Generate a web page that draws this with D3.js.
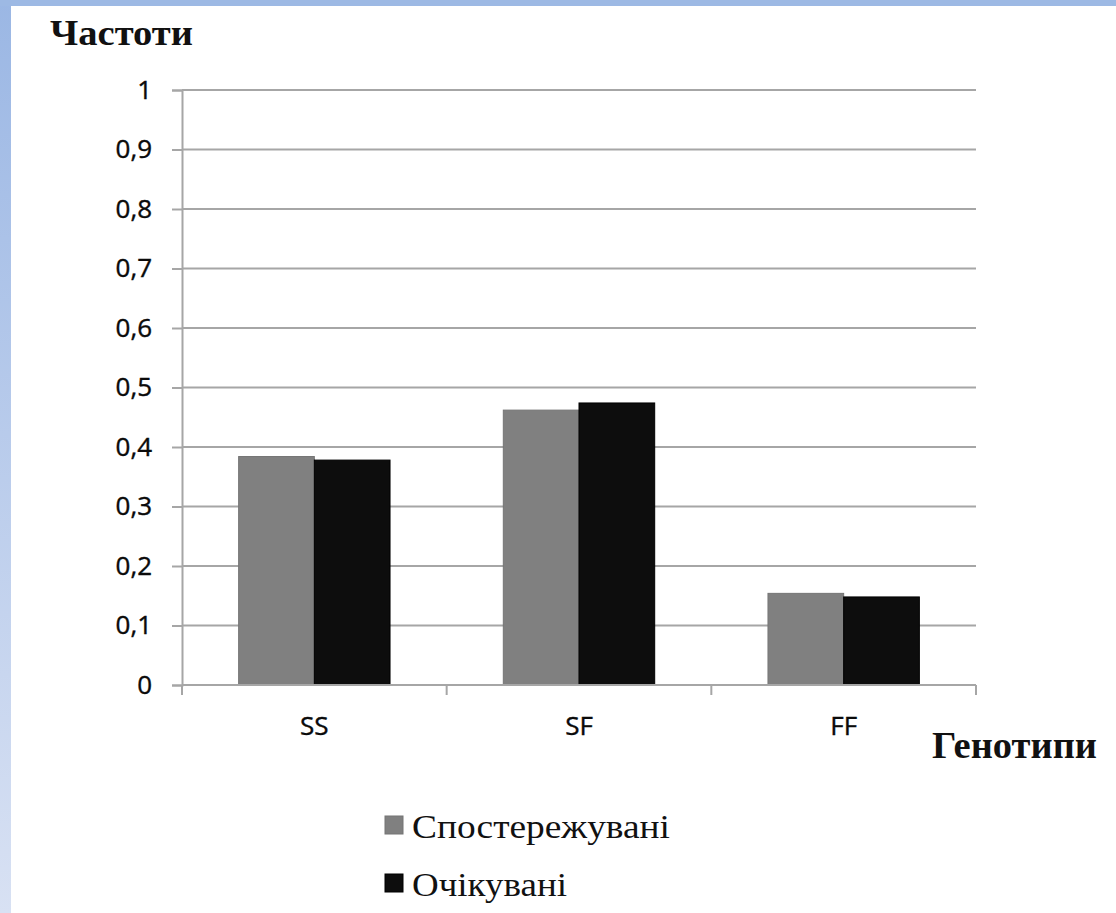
<!DOCTYPE html>
<html>
<head>
<meta charset="utf-8">
<script src="https://cdn.jsdelivr.net/npm/d3@7/dist/d3.min.js"></script>
<style>
  html, body { margin: 0; padding: 0; background: #fff; }
  svg { display: block; }
</style>
</head>
<body>
<svg id="chart" width="1116" height="913"></svg>
<script>
// Genotype frequencies: observed vs expected
const genotypes = ["SS", "SF", "FF"];
const observed = [0.384, 0.462, 0.154];
const expected = [0.378, 0.474, 0.148];
const seriesNames = ["Спостережувані", "Очікувані"];
const seriesColors = ["#808080", "#0d0d0d"];
const yTicks = [0, 0.1, 0.2, 0.3, 0.4, 0.5, 0.6, 0.7, 0.8, 0.9, 1];

const svg = d3.select("#chart");

// slide frame: blue strip on top and a fading strip on the left
const defs = svg.append("defs");
const grad = defs.append("linearGradient").attr("id", "sideFade")
  .attr("x1", 0).attr("y1", 0).attr("x2", 0).attr("y2", 1);
grad.append("stop").attr("offset", 0).attr("stop-color", "#9bb7e4");
grad.append("stop").attr("offset", 1).attr("stop-color", "#d8e1f3");
svg.append("rect").attr("x", 0).attr("y", 0).attr("width", 11).attr("height", 913).attr("fill", "url(#sideFade)");
svg.append("rect").attr("x", 0).attr("y", 0).attr("width", 1116).attr("height", 6).attr("fill", "#9db9e4");

const plotLeft = 182, plotRight = 976, plotTop = 90, plotBottom = 685;

const x = d3.scaleBand().domain(genotypes).range([plotLeft, plotRight])
  .paddingInner(0.428).paddingOuter(0.214);
const xSub = d3.scaleBand().domain([0, 1]).range([0, x.bandwidth()]);
const y = d3.scaleLinear().domain([0, 1]).range([plotBottom, plotTop]);

const gridColor = "#a6a6a6";
const labelColor = "#0a0a0a";

// horizontal gridlines
svg.append("g").selectAll("line").data(yTicks.filter(t => t > 0)).join("line")
  .attr("x1", plotLeft).attr("x2", plotRight)
  .attr("y1", d => y(d)).attr("y2", d => y(d))
  .attr("stroke", gridColor).attr("stroke-width", 2);

// y axis
const yAxis = svg.append("g").attr("transform", `translate(${plotLeft},0)`)
  .call(d3.axisLeft(y).tickValues(yTicks).tickSize(10).tickPadding(20)
    .tickFormat(d => String(d).replace(".", ",")));
yAxis.select(".domain").attr("stroke", gridColor).attr("stroke-width", 2);
yAxis.selectAll(".tick line").attr("stroke", gridColor).attr("stroke-width", 2);
yAxis.selectAll(".tick text")
  .attr("font-family", "'Open Sans', sans-serif").attr("font-size", 26)
  .attr("fill", labelColor).attr("stroke", labelColor).attr("stroke-width", 0.4);

// bars
const series = [observed, expected];
const groups = svg.append("g").selectAll("g").data(genotypes).join("g")
  .attr("transform", d => `translate(${x(d)},0)`);
groups.selectAll("rect").data((d, i) => series.map((s, k) => ({ k, v: s[i] }))).join("rect")
  .attr("x", d => xSub(d.k))
  .attr("width", xSub.bandwidth())
  .attr("y", d => y(d.v))
  .attr("height", d => y(0) - y(d.v))
  .attr("fill", d => seriesColors[d.k])
  .attr("stroke", d => d.k === 0 ? "#757575" : "#000")
  .attr("stroke-width", 1);

// x axis with category dividers
const xAxis = svg.append("g").attr("transform", `translate(0,${plotBottom})`);
xAxis.append("line").attr("x1", plotLeft).attr("x2", plotRight).attr("y1", 0).attr("y2", 0)
  .attr("stroke", gridColor).attr("stroke-width", 2);
const dividers = d3.range(genotypes.length + 1).map(i => plotLeft + i * (plotRight - plotLeft) / genotypes.length);
xAxis.selectAll("line.div").data(dividers).join("line").attr("class", "div")
  .attr("x1", d => d).attr("x2", d => d).attr("y1", 0).attr("y2", 10)
  .attr("stroke", gridColor).attr("stroke-width", 2);
xAxis.selectAll("text").data(genotypes).join("text")
  .attr("x", d => x(d) + x.bandwidth() / 2)
  .attr("y", 50)
  .attr("text-anchor", "middle")
  .attr("font-family", "'Open Sans', sans-serif").attr("font-size", 26)
  .attr("fill", labelColor).attr("stroke", labelColor).attr("stroke-width", 0.4)
  .text(d => d);

// axis titles
svg.append("text").attr("x", 50).attr("y", 45)
  .attr("font-family", "'Liberation Serif', serif").attr("font-weight", "bold")
  .attr("font-size", 36).attr("fill", "#111")
  .attr("textLength", 143).attr("lengthAdjust", "spacingAndGlyphs")
  .text("Частоти");
svg.append("text").attr("x", 932).attr("y", 758)
  .attr("font-family", "'Liberation Serif', serif").attr("font-weight", "bold")
  .attr("font-size", 37).attr("fill", "#111")
  .attr("textLength", 165).attr("lengthAdjust", "spacingAndGlyphs")
  .text("Генотипи");

// legend
const legend = svg.append("g");
const legendRows = [{ y: 816, len: 258 }, { y: 874, len: 155 }];
legendRows.forEach((r, i) => {
  legend.append("rect").attr("x", 385).attr("y", r.y).attr("width", 18).attr("height", 18)
    .attr("fill", seriesColors[i]).attr("stroke", i === 0 ? "#757575" : "#000").attr("stroke-width", 1);
  legend.append("text").attr("x", 412).attr("y", r.y + 22)
    .attr("font-family", "'Liberation Serif', serif").attr("font-size", 34).attr("fill", "#111")
    .attr("textLength", r.len).attr("lengthAdjust", "spacingAndGlyphs")
    .text(seriesNames[i]);
});
</script>
</body>
</html>
